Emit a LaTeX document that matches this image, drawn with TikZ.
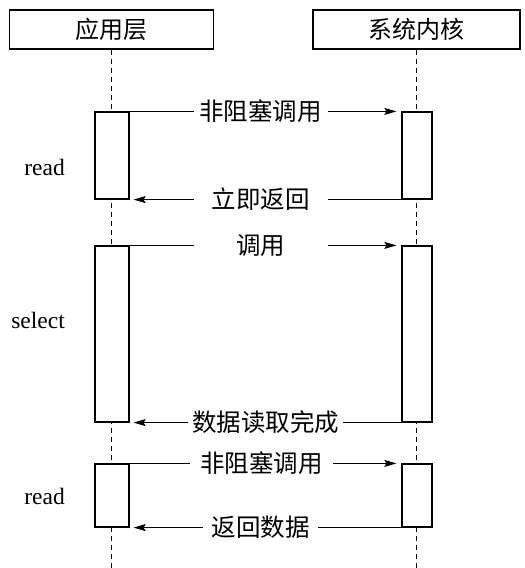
\documentclass[tikz,border=0pt]{standalone}
\usepackage{fontspec}
\setmainfont{Liberation Serif}
\newfontfamily\cjk{Noto Sans CJK SC}
\usetikzlibrary{arrows.meta}
\begin{document}
\begin{tikzpicture}[x=1pt,y=-1pt,
  hdr/.style={draw,line width=1.2pt,font=\cjk\fontsize{24}{28}\selectfont,inner sep=0pt},
  act/.style={draw,fill=white,line width=1.2pt,inner sep=0pt},
  lifeline/.style={line width=1.2pt,dash pattern=on 5pt off 4pt},
  msg/.style={line width=1.2pt,-{Stealth[length=12pt,width=7pt,inset=2pt]},shorten >=5pt},
  lbl/.style={fill=white,font=\cjk\fontsize{24.5}{28}\selectfont,inner sep=0pt,minimum height=24pt},
  side/.style={anchor=east,font=\fontsize{23.5}{27}\selectfont,inner sep=0pt}]
\useasboundingbox (0,0) rectangle (525,568);
\node[hdr,minimum width=204pt,minimum height=39pt] (app) at (111.5,29.5) {应用层};
\node[hdr,minimum width=207pt,minimum height=39pt] (kern) at (416.5,29.5) {系统内核};
\coordinate (aend) at (111.5,568);
\coordinate (kend) at (416.5,568);
\draw[lifeline] (app.south) -- (aend);
\draw[lifeline] (kern.south) -- (kend);
% activation boxes
\node[act,minimum width=34pt,minimum height=87pt] (a1) at (112,155.5) {};
\node[act,minimum width=30pt,minimum height=87pt] (k1) at (417,155.5) {};
\node[act,minimum width=34pt,minimum height=176pt] (a2) at (112,334) {};
\node[act,minimum width=30pt,minimum height=176pt] (k2) at (417,334) {};
\node[act,minimum width=34pt,minimum height=63pt] (a3) at (112,495.5) {};
\node[act,minimum width=30pt,minimum height=63pt] (k3) at (417,495.5) {};
% messages
\draw[msg] (a1.north east) -- node[lbl,minimum width=134pt,xshift=-5pt]{非阻塞调用} (k1.north west);
\draw[msg,shorten >=4pt] (k1.south west) -- node[lbl,minimum width=134pt,xshift=-5pt]{立即返回} (a1.south east);
\draw[msg] (a2.north east) -- node[lbl,minimum width=134pt,xshift=-5pt]{调用} (k2.north west);
\draw[msg,shorten >=4pt] (k2.south west) -- node[lbl,minimum width=155pt]{数据读取完成} (a2.south east);
\draw[msg] (a3.north east) -- node[lbl,minimum width=143pt,xshift=-4pt]{非阻塞调用} (k3.north west);
\draw[msg,shorten >=4pt] (k3.south west) -- node[lbl,minimum width=115pt,xshift=-5pt]{返回数据} (a3.south east);
% side labels
\node[side] (r1) at (65,167) {read};
\node[side] (s1) at (65,320) {select};
\node[side] (r2) at (65,496) {read};
\end{tikzpicture}
\end{document}
